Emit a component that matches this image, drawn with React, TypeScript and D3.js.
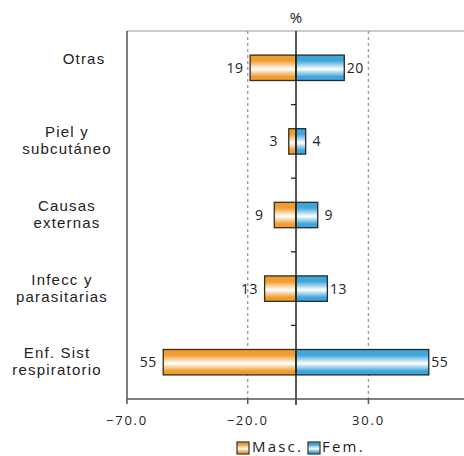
import React from "react";
import * as d3 from "d3";

const categories = [
  ["Otras"],
  ["Piel y", "subcutáneo"],
  ["Causas", "externas"],
  ["Infecc y", "parasitarias"],
  ["Enf. Sist", "respiratorio"],
];
const mascValues = [19, 3, 9, 13, 55];
const femValues = [20, 4, 9, 13, 55];
const tickValues = [-70, -20, 30];
const gridValues = [-20, 30];
const seriesNames = ["Masc.", "Fem."];

const W = 464;
const H = 456;
const left = 127;
const right = 465;
const top = 31;
const bottom = 399;
const labelShift = [20, 3, 3, -2, -7];
const FONT = "'Open Sans', 'DejaVu Sans', sans-serif";
const CAT_FONT = "'Liberation Sans', Arial, sans-serif";
const ORANGE = "#EF9D2F";
const BLUE = "#3FA6D8";

export default function App() {
  const x = d3.scaleLinear().domain([-70, 70]).range([left, right]);
  const keys = categories.map((_, i) => String(i));
  const y = d3.scaleBand<string>().domain(keys).range([top, bottom]).padding(0);
  const bw = y.bandwidth();
  const barH = bw * 0.345;
  const x0 = x(0);
  const fmt = d3.format(".1f");

  const grad = (id: string, c: string) => (
    <linearGradient id={id} x1="0" y1="0" x2="0" y2="1">
      <stop offset="0" stopColor={c} />
      <stop offset="0.22" stopColor={c} />
      <stop offset="0.55" stopColor="#ffffff" />
      <stop offset="0.85" stopColor={c} />
      <stop offset="1" stopColor={c} />
    </linearGradient>
  );

  return (
    <svg
      width={W}
      height={H}
      style={{ position: "absolute", left: 0, top: 0, background: "#fff" }}
      fontFamily={FONT}
    >
      <defs>
        {grad("gOr", ORANGE)}
        {grad("gBl", BLUE)}
      </defs>
      <rect x={0} y={0} width={W} height={H} fill="#fff" />
      {/* frame */}
      <line x1={left} x2={W} y1={top} y2={top} stroke="#9a9a9a" strokeWidth={1.2} />
      <line x1={left} x2={left} y1={top} y2={bottom} stroke="#555" strokeWidth={1.5} />
      {/* grid */}
      {gridValues.map((v) => (
        <line
          key={v}
          x1={x(v)}
          x2={x(v)}
          y1={top}
          y2={bottom}
          stroke="#9aa0a6"
          strokeWidth={1.4}
          strokeDasharray="3,3"
        />
      ))}
      {/* bars */}
      {keys.map((k, i) => {
        const yc = (y(k) as number) + bw / 2;
        const xm = x(-mascValues[i]);
        const xf = x(femValues[i]);
        return (
          <g key={k}>
            <rect
              x={xm}
              y={yc - barH / 2}
              width={x0 - xm}
              height={barH}
              fill="url(#gOr)"
              stroke="#3a2a1a"
              strokeWidth={1.3}
            />
            <rect
              x={x0}
              y={yc - barH / 2}
              width={xf - x0}
              height={barH}
              fill="url(#gBl)"
              stroke="#1f2a33"
              strokeWidth={1.3}
            />
            <text
              x={xm - 15}
              y={yc + 5}
              textAnchor="middle"
              fontSize={14}
              letterSpacing={0.5}
              fill="#222"
            >
              {mascValues[i]}
            </text>
            <text
              x={xf + 11}
              y={yc + 5}
              textAnchor="middle"
              fontSize={14}
              letterSpacing={0.5}
              fill="#222"
            >
              {femValues[i]}
            </text>
            {categories[i].map((t, j) => (
              <text
                key={j}
                x={64 + labelShift[i]}
                y={yc - 4 + j * 17}
                textAnchor="middle"
                fontFamily={CAT_FONT}
                fontSize={15}
                letterSpacing={1.2}
                fill="#222"
              >
                {t}
              </text>
            ))}
          </g>
        );
      })}
      {/* center axis */}
      <line x1={x0} x2={x0} y1={top} y2={bottom + 6} stroke="#222" strokeWidth={1.5} />
      {keys.slice(1).map((k) => (
        <line
          key={k}
          x1={x0 - 5}
          x2={x0}
          y1={y(k) as number}
          y2={y(k) as number}
          stroke="#222"
          strokeWidth={1.3}
        />
      ))}
      {/* bottom axis */}
      <line x1={left} x2={W} y1={bottom} y2={bottom} stroke="#555" strokeWidth={1.5} />
      {tickValues.map((v) => (
        <g key={v}>
          <line x1={x(v)} x2={x(v)} y1={bottom} y2={bottom + 5} stroke="#555" strokeWidth={1.5} />
          <text
            x={x(v)}
            y={bottom + 26}
            textAnchor="middle"
            fontSize={13}
            letterSpacing={1.8}
            fill="#222"
          >
            {fmt(v)}
          </text>
        </g>
      ))}
      <text x={x0} y={23} textAnchor="middle" fontSize={15} fill="#222">
        %
      </text>
      {/* legend */}
      <g>
        <rect x={237} y={442} width={12} height={12} fill="url(#gOr)" stroke="#333" strokeWidth={1.2} />
        <text x={252} y={452} fontSize={15} letterSpacing={2.2} fill="#222">
          {seriesNames[0]}
        </text>
        <rect x={308} y={442} width={12} height={12} fill="url(#gBl)" stroke="#333" strokeWidth={1.2} />
        <text x={322} y={452} fontSize={15} letterSpacing={2.2} fill="#222">
          {seriesNames[1]}
        </text>
      </g>
    </svg>
  );
}
